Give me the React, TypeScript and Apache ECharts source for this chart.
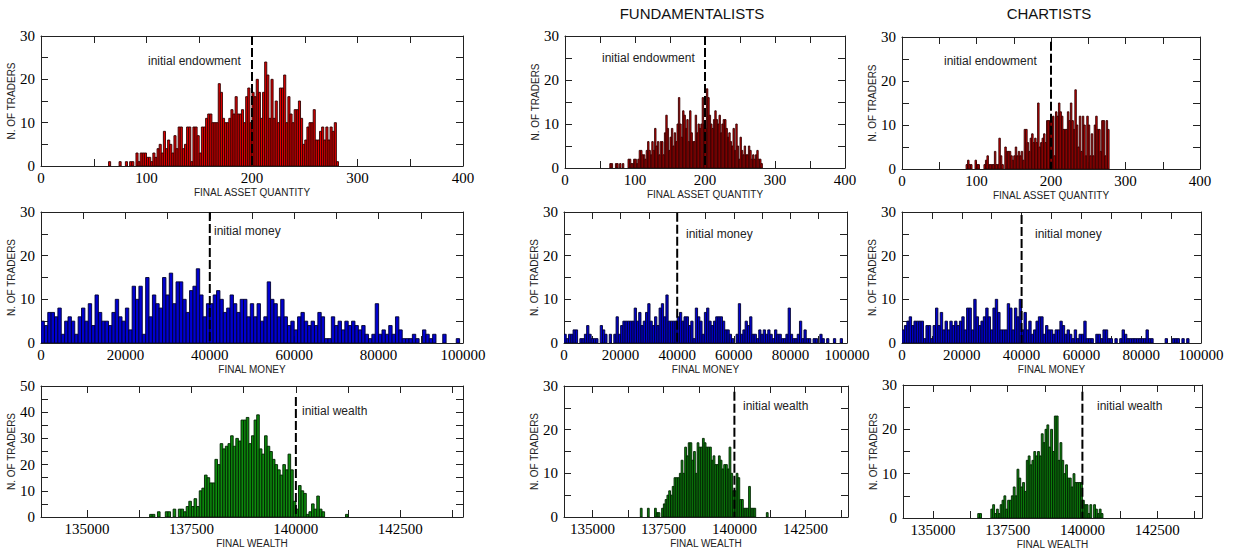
import React, { useEffect, useRef } from "react";
import * as echarts from "echarts";

// ---------- histogram data (counts per bin) ----------
const ASSET_BIN = 2;
const MONEY_BIN = 800;
const WEALTH_BIN = 62.5;

const ASSET_ALL_START = 64;
const ASSET_ALL = [1,0,0,0,0,1,0,0,1,0,1,1,0,
  3,1,3,3,3,2,2,1,3,2,4,5,3,
  8,4,6,5,3,7,4,9,9,4,5,9,9,1,9,9,7,3,9,9,11,12,12,10,10,10,
  19,17,11,10,10,11,13,12,16,12,12,13,10,
  16,18,10,17,16,20,17,11,17,24,21,11,20,11,15,10,18,18,21,10,16,12,10,13,13,15,11,5,6,9,10,10,13,6,6,8,9,6,9,6,9,8,10,1];

const ASSET_FUND_START = 64;
const ASSET_FUND = [1,1,0,0,1,1,0,1,0,1,
  0,0,0,2,2,1,1,2,2,1,
  2,4,4,3,3,2,4,6,4,3,
  6,4,9,5,6,3,6,6,3,8,
  12,9,4,7,9,5,8,6,10,16,
  10,7,13,12,9,11,6,13,8,6,
  6,12,8,10,9,10,16,10,9,18,
  16,12,10,9,11,13,11,10,12,8,
  10,11,11,9,7,8,6,5,9,4,
  10,5,2,7,4,3,5,3,3,5,
  4,2,3,2,3,4,2,2,1];

const ASSET_CHART_START = 84;
const ASSET_CHART = [0,1,2,1,1,0,0,2,1,1,
  0,0,0,1,2,3,1,1,1,1,
  4,1,1,7,3,1,0,5,4,4,
  4,3,2,3,5,3,4,3,4,2,
  9,9,6,4,7,8,6,7,6,15,
  5,6,7,8,6,11,11,11,11,12,
  3,13,12,15,13,12,9,9,9,13,
  11,15,11,9,18,10,5,12,4,12,
  10,3,12,10,3,8,3,10,12,9,
  9,4,11,11,3,11,9,0];

const MONEY_ALL_START = 0;
const MONEY_ALL = [5,4,7,7,6,8,2,5,6,5, 2,6,8,5,9,4,11,7,5,5,
  4,7,10,6,5,8,3,13,10,13, 2,15,6,11,9,8,15,11,16,9,
  14,14,10,7,12,13,17,11,6,9,
  9,11,12,10,7,8,11,9,7,10, 10,6,9,6,9,5,6,14,10,9,
  6,10,6,4,5,3,6,7,5,4, 5,4,7,6,1,1,6,4,5,3,
  5,4,5,4,3,4,2,1,2,9, 2,3,2,4,2,6,3,1,1,1,
  2,1,0,3,2,1,2,0,0,2, 0,0,0,1,0];

const MONEY_FUND_START = 0;
const MONEY_FUND = [2,1,2,2,3,3,0,1,1,2, 4,2,1,1,1,0,4,3,2,0,
  2,0,2,6,2,4,5,5,5,5, 5,8,5,7,4,5,7,9,5,4,
  6,4,8,9,6,11,5,5,5,5,
  6,7,5,6,6,4,5,1,8,6, 5,2,7,8,5,4,5,6,6,6,
  5,3,3,2,1,0,2,9,2,3, 5,4,6,2,2,1,3,2,3,2,
  3,2,1,3,2,2,1,1,2,8, 2,1,1,2,5,1,3,1,1,0,
  1,1,0,2,1,0,1,0,0,1, 0,0,1,0,0];

const MONEY_CHART_START = 0;
const MONEY_CHART = [3,4,5,6,4,5,5,5,5,1, 4,4,1,4,8,4,7,3,5,3,
  5,4,5,4,5,6,3,8,8,3, 10,6,4,5,6,8,6,3,8,10,
  7,3,3,3,9,8,3,8,6,10,
  3,7,3,5,2,3,5,6,6,2, 4,3,3,2,3,3,5,4,2,3,
  2,1,3,1,2,2,5,1,1,1, 0,2,2,1,3,3,1,1,0,1,
  0,1,3,2,1,1,1,1,1,1, 1,1,3,1,1,0,0,0,0,0,
  1,0,0,1,1,1,0,1,0,1, 0,0,0,0,0];

const WEALTH_ALL_START = 136500;
const WEALTH_ALL = [1,1,0,2,0,0,2,2,0,3,
  0,3,3,2,4,6,4,7,4,10,
  11,16,15,13,13,22,20,28,26,27,
  28,31,27,30,29,37,37,38,28,31,
  37,39,26,24,31,27,25,22,20,18,
  16,20,18,24,18,6,3,12,10,9,
  1,2,5,3,8,3,2,0,0,0,
  0,0,0,0,0,1];

const WEALTH_FUND_START = 136500;
const WEALTH_FUND = [0,0,0,2,0,0,0,2,0,0,
  0,2,1,1,0,2,3,4,5,6,
  5,7,9,9,9,10,13,10,16,14,
  17,17,13,15,10,17,16,16,18,17,
  16,16,16,13,14,12,12,14,13,11,
  12,12,11,16,10,6,6,10,9,4,
  4,2,2,2,7,2,2,2,0,0,
  0,0,0,0,1];

const WEALTH_CHART_START = 136500;
const WEALTH_CHART = [1,1,0,0,0,0,0,2,3,1,
  2,1,3,4,5,2,4,4,5,7,
  5,11,9,7,8,6,13,14,12,13,
  15,14,15,14,19,17,20,21,16,20,
  15,23,23,13,17,13,10,12,9,9,
  7,10,8,8,8,8,4,3,3,1,
  3,0,3,2,1,2,1];

// initial values (dashed lines)
const INITIAL_ENDOWMENT = 200;
const INITIAL_MONEY = 40000;
const INITIAL_WEALTH = 140000;

// ---------- axis ticks / labels ----------
const ASSET_TICKS = [0, 50, 100, 150, 200, 250, 300, 350, 400];
const ASSET_LABELS = [0, 100, 200, 300, 400];
const MONEY_TICKS = [0, 10000, 20000, 30000, 40000, 50000, 60000, 70000, 80000, 90000, 100000];
const MONEY_LABELS = [0, 20000, 40000, 60000, 80000, 100000];
const WEALTH_TICKS = [135000, 136250, 137500, 138750, 140000, 141250, 142500, 143750];
const WEALTH_LABELS = [135000, 137500, 140000, 142500];
const Y_TICKS_30 = [0, 5, 10, 15, 20, 25, 30];
const Y_LABELS_30 = [0, 10, 20, 30];
const Y_TICKS_50 = [0, 5, 10, 15, 20, 25, 30, 35, 40, 45, 50];
const Y_LABELS_50 = [0, 10, 20, 30, 40, 50];

const COLUMN_TITLES = ["FUNDAMENTALISTS", "CHARTISTS"];
const X_NAMES = ["FINAL ASSET QUANTITY", "FINAL MONEY", "FINAL WEALTH"];
const Y_NAME = "N. OF TRADERS";
const NOTES = ["initial endowment", "initial money", "initial wealth"];

// ---------- layout / style ----------
const LAYOUT = [
  [41, 36, 422, 130], [565, 36, 280, 132], [902, 37, 298, 132],
  [41, 212, 422, 131], [564, 212, 283, 131], [902, 212, 299, 131],
  [41, 386, 422, 131], [564, 386, 284, 131], [903, 385, 299, 133],
];
const NOTE_POS = [
  [148, 61], [602, 58], [944, 61],
  [214, 231], [686, 234], [1035, 234],
  [302, 411], [743, 406], [1097, 406],
];
const DASH_TOP = [30, 30, 28.9, 30, 29.8, 29.3, 45.8, 28.7, 28.5];
const TITLE_POS = [[692, 13], [1049, 13]];

const FILLS = ["#e00000", "#0000d0", "#0d8a0d"];
const STROKES = ["#300000", "#000030", "#002200"];

const SERIF = '"Liberation Serif", "Times New Roman", serif';
const SANS = '"Liberation Sans", Arial, sans-serif';
const AXIS_COLOR = "#222";

const plain = (v: number) => String(v);

function buildOption() {
  const rows = [
    { sets: [[ASSET_ALL, ASSET_ALL_START], [ASSET_FUND, ASSET_FUND_START], [ASSET_CHART, ASSET_CHART_START]], bin: ASSET_BIN, mins: [0, 0, 0], max: 400, ticks: ASSET_TICKS, labels: ASSET_LABELS, init: INITIAL_ENDOWMENT },
    { sets: [[MONEY_ALL, MONEY_ALL_START], [MONEY_FUND, MONEY_FUND_START], [MONEY_CHART, MONEY_CHART_START]], bin: MONEY_BIN, mins: [0, 0, 0], max: 100000, ticks: MONEY_TICKS, labels: MONEY_LABELS, init: INITIAL_MONEY },
    { sets: [[WEALTH_ALL, WEALTH_ALL_START], [WEALTH_FUND, WEALTH_FUND_START], [WEALTH_CHART, WEALTH_CHART_START]], bin: WEALTH_BIN, mins: [133900, 134000, 134000], max: 144000, ticks: WEALTH_TICKS, labels: WEALTH_LABELS, init: INITIAL_WEALTH },
  ];
  const grid: any[] = [];
  const xAxis: any[] = [];
  const yAxis: any[] = [];
  const series: any[] = [];
  const graphic: any[] = [];

  for (let r = 0; r < 3; r++) {
    for (let c = 0; c < 3; c++) {
      const k = r * 3 + c;
      const L = LAYOUT[k];
      const R = rows[r];
      const [counts, start] = R.sets[c] as [number[], number];
      const yMax = r === 2 && c === 0 ? 50 : 30;
      const yTicks = yMax === 50 ? Y_TICKS_50 : Y_TICKS_30;
      const yLabels = yMax === 50 ? Y_LABELS_50 : Y_LABELS_30;
      grid.push({ left: L[0], top: L[1], width: L[2], height: L[3], containLabel: false });
      const axisLine = { show: true, onZero: false, lineStyle: { color: AXIS_COLOR, width: 1 } };
      xAxis.push({
        gridIndex: k, type: "value", position: "bottom", min: R.mins[c], max: R.max,
        axisLine, splitLine: { show: false },
        axisTick: { show: true, inside: true, length: 7, customValues: R.ticks, lineStyle: { color: AXIS_COLOR } },
        axisLabel: { show: true, customValues: R.labels, formatter: plain, margin: 4, color: "#000", fontFamily: SERIF, fontSize: 15 },
        name: X_NAMES[r], nameLocation: "middle", nameGap: 21,
        nameTextStyle: { fontFamily: SANS, fontSize: 10, color: AXIS_COLOR },
      });
      xAxis.push({
        gridIndex: k, type: "value", position: "top", min: R.mins[c], max: R.max,
        axisLine, splitLine: { show: false },
        axisTick: { show: true, inside: true, length: 7, customValues: R.ticks, lineStyle: { color: AXIS_COLOR } },
        axisLabel: { show: false },
      });
      yAxis.push({
        gridIndex: k, type: "value", position: "left", min: 0, max: yMax,
        axisLine, splitLine: { show: false },
        axisTick: { show: true, inside: true, length: 7, customValues: yTicks, lineStyle: { color: AXIS_COLOR } },
        axisLabel: { show: true, customValues: yLabels, formatter: plain, margin: 6, color: "#000", fontFamily: SERIF, fontSize: 15 },
        name: Y_NAME, nameLocation: "middle", nameGap: 24, nameRotate: 90,
        nameTextStyle: { fontFamily: SANS, fontSize: 10, color: AXIS_COLOR },
      });
      yAxis.push({
        gridIndex: k, type: "value", position: "right", min: 0, max: yMax,
        axisLine, splitLine: { show: false },
        axisTick: { show: true, inside: true, length: 7, customValues: yTicks, lineStyle: { color: AXIS_COLOR } },
        axisLabel: { show: false },
      });
      const data: number[][] = [];
      counts.forEach((v, i) => {
        if (v > 0) data.push([start + i * R.bin, start + (i + 1) * R.bin, v]);
      });
      const fill = FILLS[r];
      const stroke = STROKES[r];
      series.push({
        type: "custom",
        xAxisIndex: 2 * k,
        yAxisIndex: 2 * k,
        data,
        encode: { x: [0, 1], y: 2 },
        clip: true,
        silent: true,
        renderItem: (params: any, api: any) => {
          const p0 = api.coord([api.value(0), api.value(2)]);
          const p1 = api.coord([api.value(1), 0]);
          return {
            type: "rect",
            shape: { x: p0[0], y: p0[1], width: p1[0] - p0[0], height: p1[1] - p0[1] },
            style: { fill, stroke, lineWidth: 0.9 },
          };
        },
      });
      series.push({
        type: "line",
        xAxisIndex: 2 * k,
        yAxisIndex: 2 * k,
        data: [[R.init, DASH_TOP[k]], [R.init, 0]],
        symbol: "none",
        silent: true,
        z: 5,
        lineStyle: { color: "#000", width: 2, type: [9, 3] },
      });
      graphic.push({
        type: "text", x: NOTE_POS[k][0], y: NOTE_POS[k][1], silent: true,
        style: { text: NOTES[r], fill: "#222", fontFamily: SANS, fontSize: 12, align: "left", verticalAlign: "middle" },
      });
    }
  }
  COLUMN_TITLES.forEach((t, i) => {
    graphic.push({
      type: "text", x: TITLE_POS[i][0], y: TITLE_POS[i][1], silent: true,
      style: { text: t, fill: "#111", fontFamily: SANS, fontSize: 15, align: "center", verticalAlign: "middle" },
    });
  });
  return { animation: false, backgroundColor: "#fff", grid, xAxis, yAxis, series, graphic };
}

export default function App() {
  const ref = useRef<HTMLDivElement>(null);
  useEffect(() => {
    if (!ref.current) return;
    const chart = echarts.init(ref.current, undefined, { renderer: "svg" });
    chart.setOption(buildOption() as any);
    return () => chart.dispose();
  }, []);
  return (
    <div
      ref={ref}
      style={{ position: "fixed", left: 0, top: 0, width: 1238, height: 554, background: "#fff" }}
    />
  );
}
